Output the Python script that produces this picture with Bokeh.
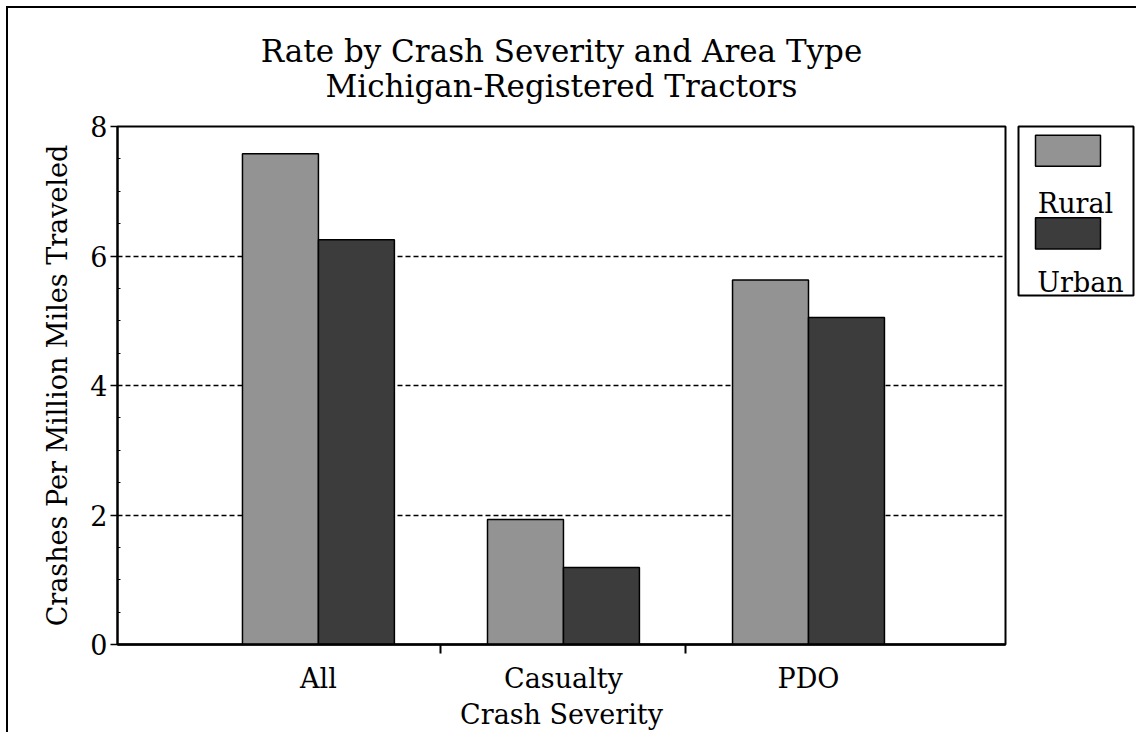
from bokeh.plotting import figure
from bokeh.models import Range1d, FixedTicker, ColumnDataSource, Title
from bokeh.layouts import row
from bokeh.transform import dodge
from bokeh.core.properties import value
from bokeh.embed import file_html
from bokeh.resources import INLINE

# ---- data ----
categories = ["All", "Casualty", "PDO"]
cat_pos = [1, 2, 3]
rural = [7.58, 1.93, 5.63]
urban = [6.25, 1.19, 5.05]
series_names = ["Rural", "Urban"]
series_colors = ["#939393", "#3c3c3c"]
y_ticks = [0, 2, 4, 6, 8]
grid_values = [2, 4, 6]
cat_boundaries = [1.5, 2.5]
title_lines = ["Rate by Crash Severity and Area Type", "Michigan-Registered Tractors"]

FONT = "DejaVu Serif"

src = ColumnDataSource(dict(x=cat_pos, rural=rural, urban=urban))

p = figure(width=1002, height=724, output_backend="svg", toolbar_location=None,
           x_range=Range1d(0.18, 3.804), y_range=Range1d(0, 8), title=None,
           min_border_left=109, min_border_right=5, min_border_top=118,
           min_border_bottom=83, background_fill_color="white",
           border_fill_color="white")

bw = 0.31
p.vbar(x=dodge("x", -bw / 2, range=p.x_range), top="rural", width=bw, source=src,
       fill_color=series_colors[0], line_color="black", line_width=1.5)
p.vbar(x=dodge("x", bw / 2, range=p.x_range), top="urban", width=bw, source=src,
       fill_color=series_colors[1], line_color="black", line_width=1.5)

# title: two centred lines (later-added line sits farther from the frame)
t2 = Title(text=title_lines[1], align="center", text_font=FONT, text_font_size="31px",
           text_font_style="normal", text_color="black", standoff=46)
t1 = Title(text=title_lines[0], align="center", text_font=FONT, text_font_size="31px",
           text_font_style="normal", text_color="black", standoff=-52)
p.add_layout(t2, "above")
p.add_layout(t1, "above")

# x axis
xa = p.xaxis[0]
xa.ticker = FixedTicker(ticks=cat_pos, minor_ticks=cat_boundaries)
xa.major_label_overrides = {c: n for c, n in zip(cat_pos, categories)}
xa.major_tick_out = 0
xa.major_tick_in = 0
xa.minor_tick_out = 9
xa.minor_tick_in = 0
xa.minor_tick_line_width = 2
xa.axis_line_width = 2.5
xa.axis_label = "Crash Severity"
xa.axis_label_standoff = 2
xa.major_label_standoff = 9
xa.major_label_text_font = FONT
xa.major_label_text_font_size = "27px"
xa.axis_label_text_font = FONT
xa.axis_label_text_font_size = "27px"
xa.axis_label_text_font_style = "normal"
xa.major_label_text_color = "black"
xa.axis_label_text_color = "black"
xa.axis_line_color = "black"
xa.minor_tick_line_color = "black"

# y axis
ya = p.yaxis[0]
ya.ticker = FixedTicker(ticks=y_ticks, minor_ticks=[i * 0.5 for i in range(17)])
ya.major_tick_out = 7
ya.major_tick_in = 0
ya.minor_tick_in = 3
ya.minor_tick_out = 0
ya.major_tick_line_width = 1.5
ya.axis_line_width = 2
ya.axis_label = "Crashes Per Million Miles Traveled"
ya.axis_label_text_font = FONT
ya.axis_label_text_font_size = "27px"
ya.axis_label_text_font_style = "normal"
ya.axis_label_text_color = "black"
ya.axis_label_standoff = 14
ya.major_label_text_font = FONT
ya.major_label_text_font_size = "27px"
ya.major_label_text_color = "black"
ya.major_label_standoff = 3
ya.axis_line_color = "black"
ya.major_tick_line_color = "black"
ya.minor_tick_line_color = "black"

p.xgrid.grid_line_color = None
p.ygrid.ticker = FixedTicker(ticks=grid_values)
p.ygrid.grid_line_color = "black"
p.ygrid.grid_line_dash = "5 3"
p.ygrid.grid_line_width = 1.5

p.outline_line_color = "black"
p.outline_line_width = 2
p.outline_line_alpha = 1

# ---- legend panel (patch above label, as in the original) ----
# in a row Bokeh aligns the frames' top/bottom borders with the main plot,
# so the height is chosen to give a 174px-tall legend box.
leg = figure(width=126, height=375, output_backend="svg", toolbar_location=None,
             x_range=Range1d(0, 115), y_range=Range1d(174, 0), title=None,
             x_axis_location=None, y_axis_location=None,
             min_border_left=8, min_border_right=3, min_border_top=118,
             min_border_bottom=83, background_fill_color="white",
             border_fill_color="white")
leg.grid.visible = False
leg.outline_line_color = "black"
leg.outline_line_width = 2

patch_y = [25, 110]
text_y = [79, 161]
leg.rect(x=[49.5, 49.5], y=patch_y, width=65, height=32,
         fill_color=series_colors, line_color="black", line_width=1.5)
leg.text(x=[57, 62], y=text_y, text=series_names, text_font=value(FONT),
         text_font_size="27px", text_align="center", text_baseline="alphabetic",
         text_color="black")

layout = row(p, leg, styles={"margin-top": "6px", "margin-left": "6px",
                             "border-top": "2px solid black",
                             "border-left": "2px solid black"})

open("out.html", "w").write(file_html(layout, INLINE))
